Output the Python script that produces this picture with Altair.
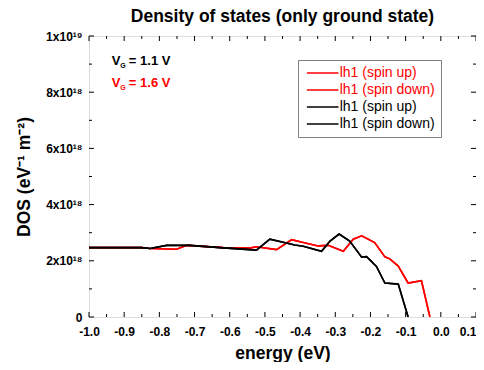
import altair as alt
import pandas as pd

# ---- data (DOS in units of 1e18 eV^-1 m^-2) ----
black_energy = [-1.0, -0.85, -0.827, -0.779, -0.713, -0.628, -0.524, -0.486, -0.415, -0.391,
                -0.339, -0.315, -0.289, -0.259, -0.225, -0.211, -0.183, -0.159, -0.121, -0.093]
black_dos = [2.47, 2.47, 2.44, 2.55, 2.55, 2.47, 2.38, 2.77, 2.56, 2.52,
             2.34, 2.70, 2.95, 2.70, 2.13, 2.15, 1.80, 1.21, 1.17, 0.0]

red_energy = [-1.0, -0.85, -0.827, -0.751, -0.722, -0.618, -0.543, -0.524, -0.467, -0.424,
              -0.391, -0.349, -0.32, -0.277, -0.249, -0.225, -0.188, -0.159, -0.145, -0.121,
              -0.093, -0.055, -0.031]
red_dos = [2.47, 2.47, 2.44, 2.41, 2.55, 2.47, 2.45, 2.50, 2.40, 2.75,
           2.65, 2.53, 2.55, 2.34, 2.77, 2.89, 2.65, 2.14, 2.07, 1.81,
           1.21, 1.29, 0.0]

series_keys = ["r_up", "r_down", "k_up", "k_down"]
series_labels = ["lh1 (spin up)", "lh1 (spin down)", "lh1 (spin up)", "lh1 (spin down)"]
series_colors = ["#ff0000", "#ff0000", "#000000", "#000000"]

x_major = [round(-1.0 + 0.1 * i, 2) for i in range(12)]
x_minor = [round(-0.95 + 0.1 * i, 2) for i in range(11)]
y_major = [0, 2, 4, 6, 8, 10]
y_minor = [1, 3, 5, 7, 9]

# ---- tables ----
rows = []
for key in ["r_up", "r_down"]:
    for e, d in zip(red_energy, red_dos):
        rows.append({"series": key, "energy": e, "dos": d})
for key in ["k_up", "k_down"]:
    for e, d in zip(black_energy, black_dos):
        rows.append({"series": key, "energy": e, "dos": d})
df = pd.DataFrame(rows)

W, H = 387, 281
xscale = alt.Scale(domain=[-1.0, 0.1], nice=False, zero=False)
yscale = alt.Scale(domain=[0, 10], nice=False)

x_axis = alt.Axis(values=x_major, title="energy (eV)", ticks=False, domain=False, grid=False,
                  labelExpr="(datum.value < -0.001 ? '-' : '') + format(abs(datum.value), '.1f')",
                  labelAlign={"condition": {"test": "datum.value > 0.05", "value": "right"},
                              "value": "center"},
                  labelFontSize=12, labelFontWeight="bold", labelFont="Liberation Sans",
                  labelColor="black", labelPadding=9, labelFlush=False, labelOverlap=False,
                  titleFontSize=17.5, titleFontWeight="bold", titleFont="Liberation Sans",
                  titleColor="black", titleX=W / 2, titleY=41, titleBaseline="alphabetic",
                  titleAlign="center")
y_axis = alt.Axis(values=y_major, title="DOS (eV⁻¹ m⁻²)", ticks=False, domain=False, grid=False,
                  labelExpr="datum.value == 0 ? '0' : (datum.value == 10 ? '1x10¹⁹' : datum.value + 'x10¹⁸')",
                  labelFontSize=12, labelFontWeight="bold", labelFont="Liberation Sans",
                  labelColor="black", labelPadding=7, labelFlush=False, labelOverlap=False,
                  titleFontSize=17.5, titleFontWeight="bold", titleFont="Liberation Sans",
                  titleColor="black", titleAngle=270, titleX=-60, titleY=H / 2,
                  titleAlign="center", titleBaseline="alphabetic")

X = alt.X("energy:Q", scale=xscale, axis=x_axis)
Y = alt.Y("dos:Q", scale=yscale, axis=y_axis)

label_map = "{" + ",".join(f"'{k}':'{l}'" for k, l in zip(series_keys, series_labels)) + "}"

lines = alt.Chart(df).mark_line(strokeWidth=1.6, clip=True).encode(
    x=X, y=Y,
    color=alt.Color("series:N", scale=alt.Scale(domain=series_keys, range=series_colors),
                    legend=alt.Legend(title=None, orient="none", legendX=209, legendY=24,
                                      symbolType="M-5,0H5", symbolSize=40, symbolStrokeWidth=1.6,
                                      symbolOffset=11.7,
                                      labelExpr=label_map + "[datum.value]",
                                      labelColor={"expr": "indexof(datum.value, 'r_') == 0 ? '#ff0000' : '#000000'"},
                                      labelFontSize=14, labelFont="Liberation Sans", labelOffset=10,
                                      rowPadding=3, padding=6, strokeColor="#808080",
                                      fillColor="white")),
    detail="series:N",
    order=alt.Order("energy:Q"),
)

# inward ticks (drawn from tick-position lists through the shared scales)
def xticks(vals, length):
    d = pd.DataFrame({"energy": vals})
    bottom = alt.Chart(d).mark_rule(color="black", strokeWidth=1).encode(
        x=X, y=alt.value(H), y2=alt.value(H - length))
    top = alt.Chart(d).mark_rule(color="black", strokeWidth=1).encode(
        x=X, y=alt.value(0), y2=alt.value(length))
    return bottom + top

def yticks(vals, length):
    d = pd.DataFrame({"dos": vals})
    left = alt.Chart(d).mark_rule(color="black", strokeWidth=1).encode(
        y=Y, x=alt.value(0), x2=alt.value(length))
    right = alt.Chart(d).mark_rule(color="black", strokeWidth=1).encode(
        y=Y, x=alt.value(W), x2=alt.value(W - length))
    return left + right

ticks = xticks(x_major, 5) + xticks(x_minor, 3) + yticks(y_major, 5) + yticks(y_minor, 3)

# annotations
ann = pd.DataFrame({"energy": [-0.935], "dos": [8.97]})
ann2 = pd.DataFrame({"energy": [-0.935], "dos": [8.2]})

def vg_label(d, value_text, color):
    base = alt.Chart(d)
    v = base.mark_text(text="V", align="left", baseline="alphabetic", fontSize=13, fontWeight="bold",
                       font="Liberation Sans", color=color).encode(x=X, y=Y)
    g = base.mark_text(text="G", align="left", baseline="alphabetic", fontSize=7, fontWeight="bold",
                       font="Liberation Sans", color=color, dx=8.5, dy=3).encode(x=X, y=Y)
    rest = base.mark_text(text=value_text, align="left", baseline="alphabetic", fontSize=13,
                          fontWeight="bold", font="Liberation Sans", color=color, dx=17).encode(x=X, y=Y)
    return v + g + rest

annotations = vg_label(ann, "= 1.1 V", "#000000") + vg_label(ann2, "= 1.6 V", "#ff0000")

chart = alt.layer(lines, ticks, annotations).properties(
    width=W, height=H,
    title=alt.TitleParams("Density of states (only ground state)", fontSize=17.5, fontWeight="bold",
                          font="Liberation Sans", color="black", anchor="middle", offset=-9,
                          baseline="alphabetic", frame="group"),
    autosize=alt.AutoSizeParams(type="none"),
    padding={"left": 81, "top": 28, "right": 0, "bottom": 45},
).configure_view(stroke="black", strokeWidth=1).configure(background="white")

chart.save("out.html", embed_options={"renderer": "svg", "actions": False})
